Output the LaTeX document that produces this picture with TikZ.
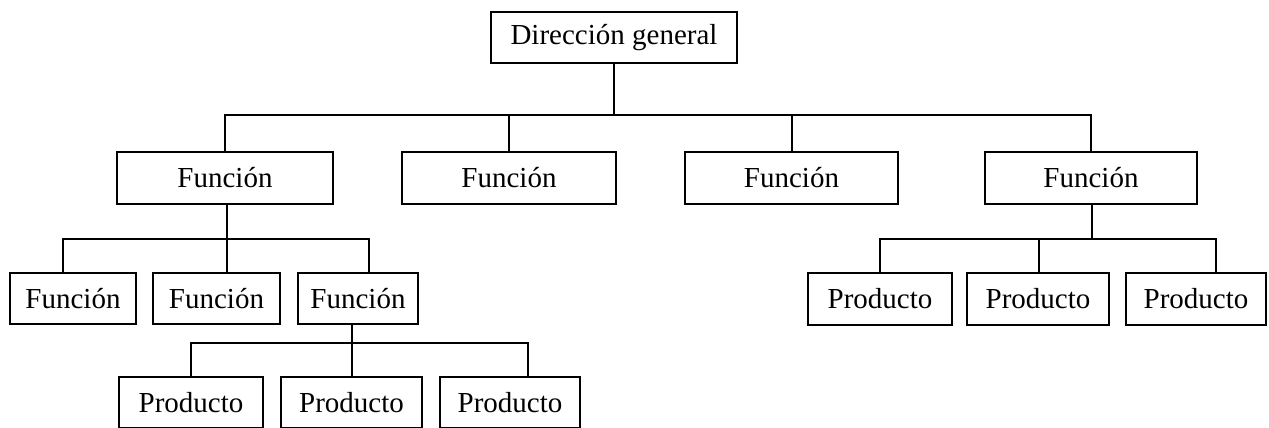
\documentclass[tikz,border=0pt]{standalone}
\usepackage{fontspec}
\setmainfont{Liberation Serif}
\begin{document}
\begin{tikzpicture}[x=1pt,y=-1pt,
  box/.style={draw,line width=2pt,inner sep=0pt,anchor=center,font=\fontsize{29}{34}\selectfont},
  conn/.style={line width=2pt}]
\useasboundingbox (0,0) rectangle (1269,428);
% level 1
\node[box,minimum width=246pt,minimum height=51pt] (top) at (614,37.5) {Dirección general};
% level 2
\node[box,minimum width=216pt,minimum height=52pt] (F1) at (225,178) {Función};
\node[box,minimum width=214pt,minimum height=52pt] (F2) at (509,178) {Función};
\node[box,minimum width=213pt,minimum height=52pt] (F3) at (791.5,178) {Función};
\node[box,minimum width=212pt,minimum height=52pt] (F4) at (1091,178) {Función};
% level 3 left
\node[box,minimum width=126pt,minimum height=51pt] (L1) at (73,298.5) {Función};
\node[box,minimum width=127pt,minimum height=51pt] (L2) at (216.5,298.5) {Función};
\node[box,minimum width=120pt,minimum height=51pt] (L3) at (358,298.5) {Función};
% level 3 right
\node[box,minimum width=144pt,minimum height=52pt] (R1) at (880,299) {Producto};
\node[box,minimum width=142pt,minimum height=52pt] (R2) at (1038,299) {Producto};
\node[box,minimum width=140pt,minimum height=52pt] (R3) at (1196,299) {Producto};
% level 4
\node[box,minimum width=144pt,minimum height=51pt] (P1) at (191,402.5) {Producto};
\node[box,minimum width=141pt,minimum height=51pt] (P2) at (351.5,402.5) {Producto};
\node[box,minimum width=140pt,minimum height=51pt] (P3) at (510,402.5) {Producto};
% bus levels
\coordinate (b1) at (0,115);
\coordinate (b2) at (0,239);
\coordinate (b3) at (0,343);
% connectors level 1 -> 2
\draw[conn] (top.south) -- (top.south |- b1);
\draw[conn] (F1.north) -- (F1.north |- b1) -- (F4.north |- b1) -- (F4.north);
\draw[conn] (F2.north) -- (F2.north |- b1);
\draw[conn] (F3.north) -- (F3.north |- b1);
% F1 -> L
\draw[conn] ([xshift=2pt]F1.south) -- ([xshift=2pt]F1.south |- b2);
\draw[conn] ([xshift=-10pt]L1.north) -- ([xshift=-10pt]L1.north |- b2) -- ([xshift=11pt]L3.north |- b2) -- ([xshift=11pt]L3.north);
\draw[conn] ([xshift=10.5pt]L2.north) -- ([xshift=10.5pt]L2.north |- b2);
% F4 -> R
\draw[conn] ([xshift=1pt]F4.south) -- ([xshift=1pt]F4.south |- b2);
\draw[conn] (R1.north) -- (R1.north |- b2) -- ([xshift=20pt]R3.north |- b2) -- ([xshift=20pt]R3.north);
\draw[conn] ([xshift=1pt]R2.north) -- ([xshift=1pt]R2.north |- b2);
% L3 -> P
\draw[conn] ([xshift=-6pt]L3.south) -- ([xshift=-6pt]L3.south |- b3);
\draw[conn] (P1.north) -- (P1.north |- b3) -- ([xshift=18pt]P3.north |- b3) -- ([xshift=18pt]P3.north);
\draw[conn] ([xshift=0.5pt]P2.north) -- ([xshift=0.5pt]P2.north |- b3);
\end{tikzpicture}
\end{document}
